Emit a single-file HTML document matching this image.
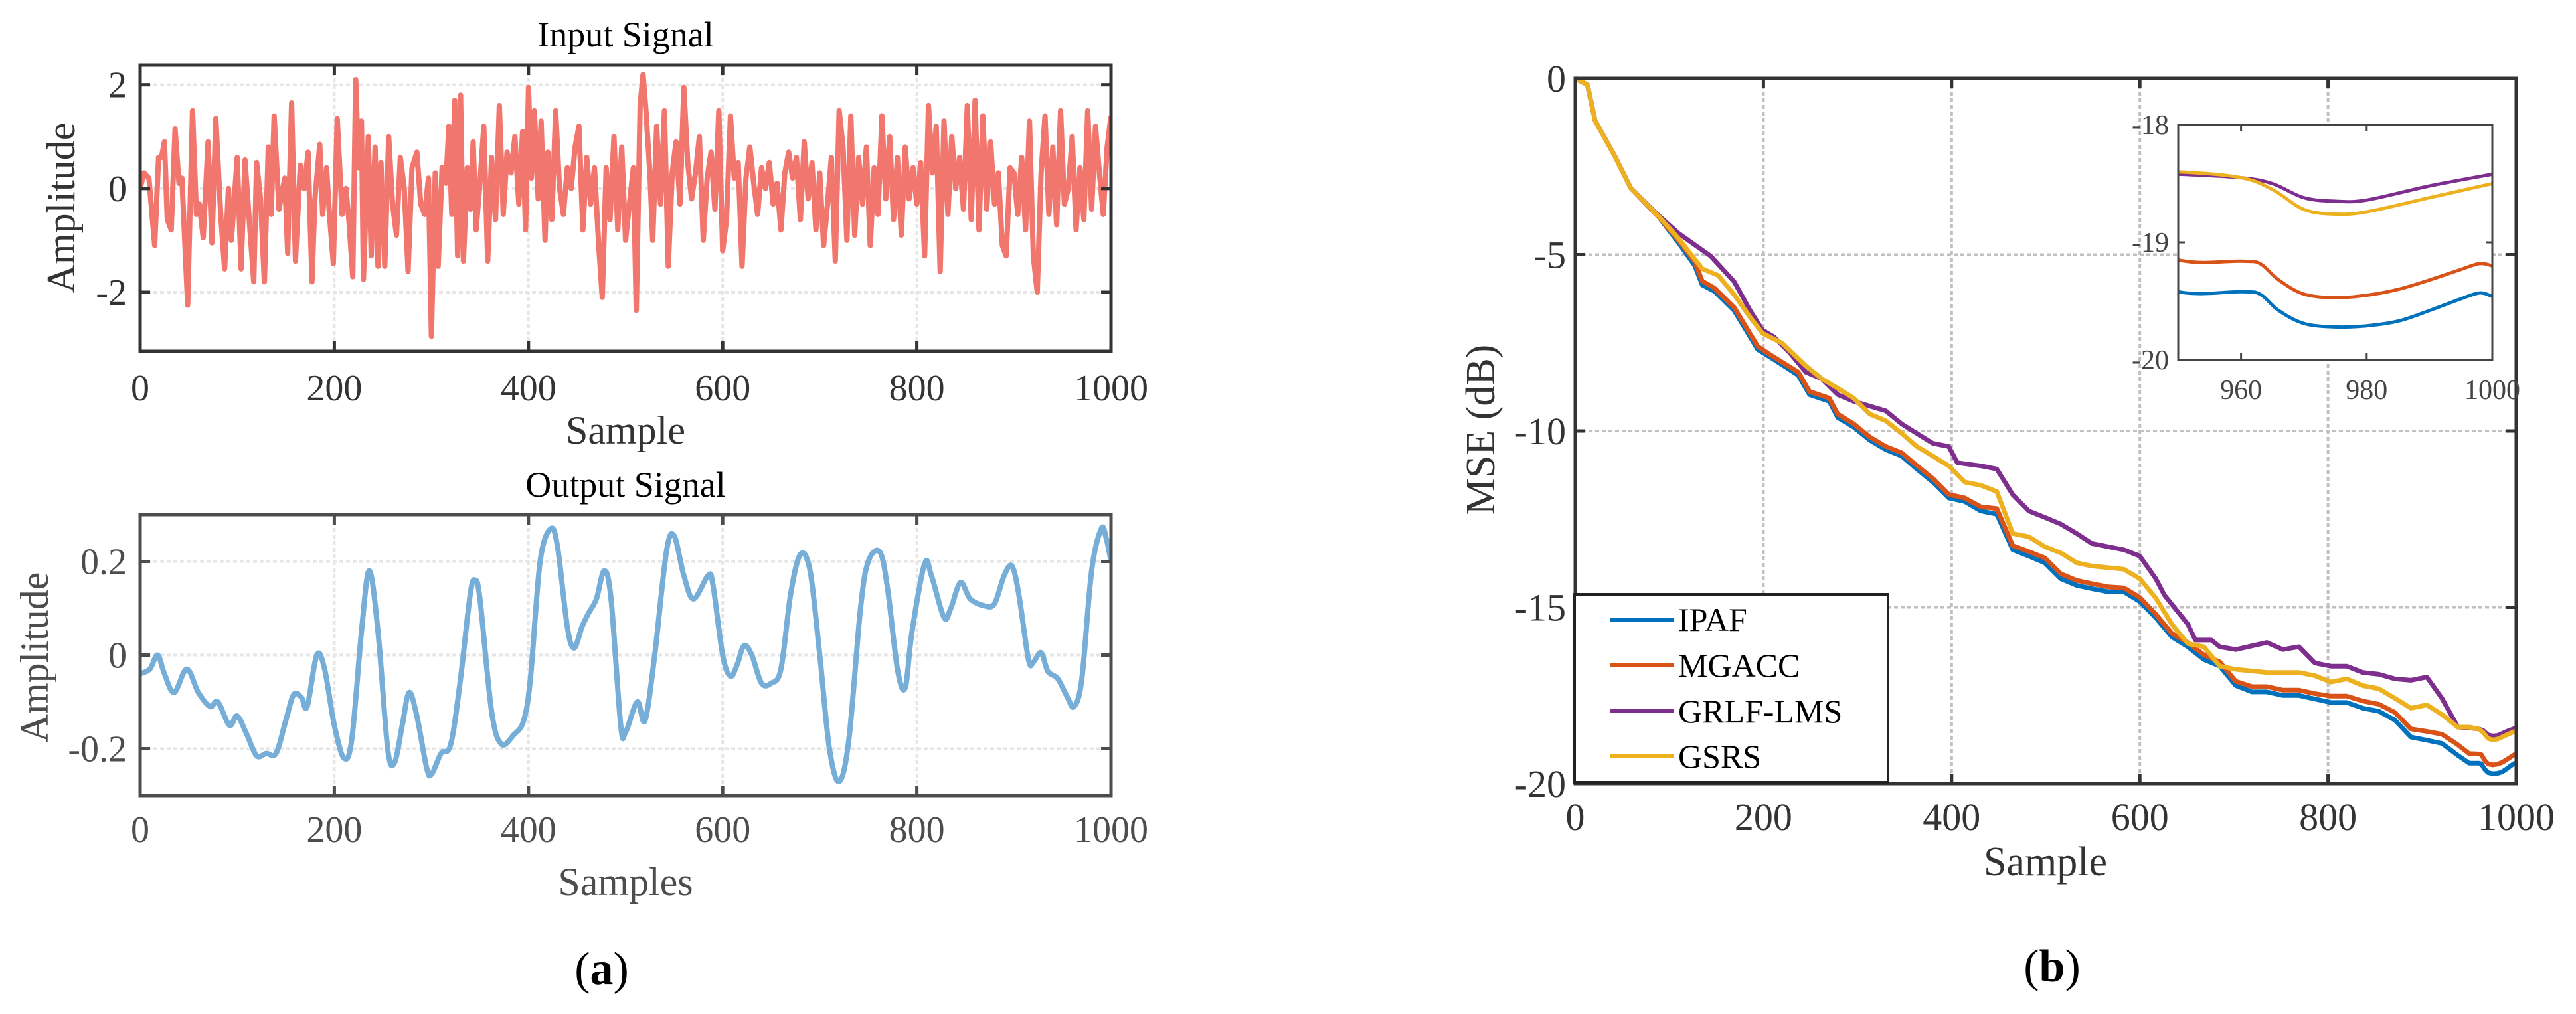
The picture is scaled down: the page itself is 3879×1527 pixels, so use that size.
<!DOCTYPE html>
<html><head><meta charset="utf-8"><style>
html,body{margin:0;padding:0;background:#fff;}
svg{display:block;}
text{font-family:"Liberation Serif",serif;}
</style></head><body>
<svg id="fig" width="3879" height="1527" viewBox="0 0 3879 1527" xmlns="http://www.w3.org/2000/svg"></svg>
<script>
// ---------- DATA ----------
const inputSamples = [0,4,9,15,19,22,25,28,32,36,40,43,49,54,58,61,65,70,74,78,83,87,91,94,100,104,108,112,117,120,124,128,132,135,138,143,149,152,156,160,165,169,173,177,180,185,188,192,195,199,203,208,212,215,219,222,225,228,230,235,238,242,245,248,252,256,260,264,268,272,276,280,285,289,293,297,300,304,307,311,315,318,321,324,327,330,333,337,340,343,346,350,354,358,362,366,370,374,378,382,386,390,394,397,400,403,406,410,413,417,420,424,428,432,436,440,444,448,452,456,460,464,468,472,476,480,484,488,492,496,500,504,508,511,515,518,521,525,528,532,536,540,544,548,552,556,560,564,568,572,576,580,584,588,592,596,600,604,608,612,616,620,624,628,632,636,640,644,648,652,656,660,664,668,672,676,680,684,688,692,696,700,704,708,712,716,720,724,728,732,736,740,744,748,752,756,760,764,768,772,776,780,784,788,792,796,800,804,808,812,816,820,824,828,832,836,840,844,848,852,856,860,864,868,872,876,880,884,888,892,896,900,904,908,912,916,920,924,928,932,936,940,944,948,952,956,960,964,968,972,976,980,984,988,992,996,1000];
const inputValues = [0.0,0.3,0.2,-1.1,0.6,0.6,0.9,-0.6,-0.8,1.15,0.1,0.2,-2.25,1.5,-0.5,-0.3,-0.95,0.9,-1.05,1.35,-0.5,-1.55,0.0,-1.0,0.6,-1.55,0.55,-0.5,-1.8,0.5,-0.2,-1.8,0.8,-0.5,1.4,-0.4,0.2,-1.25,1.65,-1.4,0.45,0.0,0.7,-1.8,-0.2,0.85,-0.5,0.4,-0.5,-1.45,1.35,-0.5,0.0,-0.6,-1.7,2.1,0.4,1.3,-1.75,1.0,-1.3,0.8,-1.5,0.5,-1.5,1.0,-0.3,-0.9,0.6,0.0,-1.6,0.4,0.7,-0.3,-0.5,0.2,-2.85,0.3,-1.5,0.4,0.1,1.2,-0.5,1.7,-1.3,1.8,-1.4,0.4,-0.4,0.9,-0.8,0.1,1.2,-1.4,0.6,-0.6,1.6,-0.5,0.7,0.3,1.0,-0.3,1.1,-0.8,1.95,0.2,1.5,-0.2,1.3,-1.0,0.7,-0.6,1.5,0.0,-0.5,0.4,0.0,0.8,1.2,-0.8,0.6,-0.3,0.4,-1.0,-2.1,0.4,-0.6,1.0,-0.8,0.8,-1.0,-0.3,0.4,-2.35,1.6,2.2,1.5,0.3,-1.0,1.2,-0.3,1.5,-1.5,0.3,0.9,-0.3,1.95,0.5,-0.2,0.3,1.0,-1.0,0.2,0.7,-0.4,1.5,-1.2,-0.6,1.4,0.2,0.5,-1.5,0.2,0.8,0.1,-0.5,0.4,0.0,0.5,-0.3,0.1,-0.8,0.3,0.7,0.2,0.6,-0.6,0.9,-0.2,0.5,-0.8,0.3,-1.1,-0.3,0.6,-1.4,1.5,0.8,-1.0,1.4,-0.9,0.6,-0.3,0.8,-1.1,0.4,-0.5,1.4,-0.2,1.0,-0.6,0.6,-0.9,0.8,-0.2,0.4,-0.3,0.5,-1.3,1.6,0.3,1.2,-1.6,1.3,-0.5,1.0,0.0,0.6,-0.4,1.6,-0.6,1.7,-0.8,1.4,-0.4,0.9,-0.3,0.3,-1.1,-1.3,0.4,0.3,-0.5,0.6,-0.8,1.3,-1.3,-2.0,0.3,1.4,-0.5,0.8,-0.7,1.5,-0.3,0.0,1.0,-0.8,0.4,-0.6,1.5,-0.4,1.2,0.3,-0.5,0.8,1.4];

const outputSamples = [0,10,18,25,35,48,60,72,80,92,100,110,120,130,140,150,158,166,172,182,190,200,210,218,228,236,245,255,262,270,277,285,295,300,310,320,330,340,345,350,362,372,385,395,402,412,423,430,440,447,455,462,470,478,485,495,500,512,520,530,542,550,560,570,585,590,600,608,615,622,630,640,650,660,670,680,690,700,710,720,730,742,750,762,770,780,788,795,808,815,828,835,845,855,870,880,890,898,905,915,920,928,935,945,955,962,970,980,990,995,1000];
const outputValues = [-0.04,-0.03,0.0,-0.04,-0.08,-0.03,-0.08,-0.11,-0.1,-0.15,-0.13,-0.17,-0.215,-0.21,-0.21,-0.14,-0.085,-0.09,-0.11,0.0,-0.03,-0.15,-0.22,-0.18,0.05,0.18,0.05,-0.2,-0.23,-0.15,-0.08,-0.13,-0.24,-0.255,-0.21,-0.19,-0.05,0.13,0.16,0.12,-0.12,-0.19,-0.17,-0.14,-0.05,0.2,0.27,0.23,0.06,0.015,0.06,0.09,0.12,0.18,0.12,-0.15,-0.165,-0.1,-0.14,0.0,0.22,0.255,0.17,0.12,0.17,0.15,0.0,-0.045,-0.02,0.02,0.0,-0.06,-0.06,-0.03,0.13,0.215,0.18,0.0,-0.2,-0.27,-0.18,0.1,0.2,0.22,0.14,-0.03,-0.07,0.05,0.195,0.17,0.08,0.1,0.155,0.12,0.105,0.11,0.17,0.19,0.13,-0.01,-0.015,0.005,-0.035,-0.05,-0.09,-0.11,-0.05,0.18,0.27,0.25,0.2];

const ipafSamples = [0,13,21,42,59,89,110,127,135,148,169,194,211,237,249,270,279,296,313,330,347,363,380,397,414,431,448,465,482,499,516,533,549,566,583,600,617,634,651,668,685,702,719,735,752,769,786,803,820,837,854,871,888,905,921,938,950,960,963,966,970,975,980,985,990,995,998,1000];
const ipafValues = [0,-0.18,-1.19,-2.2,-3.11,-3.94,-4.67,-5.31,-5.86,-6.04,-6.59,-7.69,-7.97,-8.42,-8.97,-9.16,-9.62,-9.89,-10.26,-10.53,-10.71,-11.08,-11.45,-11.9,-12.0,-12.27,-12.36,-13.37,-13.55,-13.74,-14.19,-14.38,-14.47,-14.56,-14.56,-14.84,-15.3,-15.84,-16.12,-16.48,-16.67,-17.22,-17.4,-17.4,-17.5,-17.5,-17.6,-17.7,-17.7,-17.86,-17.95,-18.2,-18.68,-18.77,-18.86,-19.2,-19.42,-19.42,-19.44,-19.58,-19.69,-19.72,-19.71,-19.67,-19.58,-19.48,-19.43,-19.46];
const mgaccSamples = [0,13,21,42,59,89,110,127,135,148,169,194,211,237,249,270,279,296,313,330,347,363,380,397,414,431,448,465,482,499,516,533,549,566,583,600,617,634,651,668,685,702,719,735,752,769,786,803,820,837,854,871,888,905,921,938,950,960,963,966,970,975,980,985,990,995,998,1000];
const mgaccValues = [0,-0.18,-1.19,-2.2,-3.11,-3.94,-4.6,-5.2,-5.75,-5.95,-6.5,-7.6,-7.9,-8.33,-8.88,-9.07,-9.52,-9.8,-10.17,-10.44,-10.62,-10.98,-11.35,-11.8,-11.9,-12.15,-12.2,-13.25,-13.42,-13.6,-14.05,-14.24,-14.33,-14.42,-14.45,-14.72,-15.2,-15.74,-16.0,-16.35,-16.55,-17.1,-17.25,-17.25,-17.35,-17.35,-17.45,-17.52,-17.52,-17.66,-17.75,-17.98,-18.45,-18.52,-18.6,-18.9,-19.15,-19.16,-19.18,-19.32,-19.44,-19.47,-19.45,-19.4,-19.32,-19.23,-19.18,-19.2];
const grlfSamples = [0,13,21,42,59,89,110,144,169,186,199,211,228,245,262,279,296,330,347,363,380,397,406,431,448,465,482,499,516,533,549,566,583,600,617,626,651,659,676,685,702,735,752,769,786,803,820,837,854,871,888,905,921,938,950,960,965,970,975,980,990,1000];
const grlfValues = [0,-0.18,-1.19,-2.2,-3.11,-3.9,-4.4,-5.04,-5.77,-6.59,-7.14,-7.33,-7.78,-8.33,-8.52,-8.97,-9.16,-9.43,-9.8,-10.07,-10.35,-10.44,-10.9,-10.99,-11.08,-11.81,-12.27,-12.45,-12.64,-12.91,-13.19,-13.28,-13.37,-13.55,-14.19,-14.65,-15.48,-15.93,-15.93,-16.12,-16.2,-16.0,-16.2,-16.12,-16.58,-16.67,-16.67,-16.85,-16.9,-17.03,-17.07,-16.98,-17.58,-18.4,-18.42,-18.45,-18.5,-18.62,-18.65,-18.64,-18.52,-18.42];
const gsrsSamples = [0,13,21,42,59,89,110,135,152,169,186,199,220,245,262,279,296,313,330,347,363,380,397,414,431,448,465,482,499,516,533,549,583,600,617,634,651,668,685,702,735,752,769,786,803,820,837,854,871,888,905,921,938,950,960,965,970,975,980,990,1000];
const gsrsValues = [0,-0.18,-1.19,-2.2,-3.11,-3.92,-4.55,-5.4,-5.59,-6.14,-6.78,-7.23,-7.51,-8.15,-8.52,-8.79,-9.07,-9.52,-9.71,-10.07,-10.44,-10.71,-10.99,-11.45,-11.54,-11.72,-12.91,-13.0,-13.28,-13.46,-13.74,-13.83,-13.92,-14.19,-14.74,-15.48,-16.03,-16.12,-16.67,-16.76,-16.85,-16.85,-16.85,-16.94,-17.12,-17.03,-17.22,-17.31,-17.58,-17.86,-17.77,-18.04,-18.4,-18.4,-18.45,-18.55,-18.72,-18.76,-18.74,-18.62,-18.5];

const xTicks = [0,200,400,600,800,1000];
const inYTicks = [-2,0,2];
const inYLabels = ["-2","0","2"];
const outYTicks = [-0.2,0,0.2];
const outYLabels = ["-0.2","0","0.2"];
const mseYTicks = [-20,-15,-10,-5,0];
const mseYLabels = ["-20","-15","-10","-5","0"];
const insetXTicks = [960,980,1000];
const insetYTicks = [-20,-19,-18];
const legendLabels = ["IPAF","MGACC","GRLF-LMS","GSRS"];

// ---------- DRAWING ----------
const NS = "http://www.w3.org/2000/svg";
const svg = document.getElementById('fig');
function el(tag, attrs, parent, txt){
  const e = document.createElementNS(NS, tag);
  for (const k in attrs) e.setAttribute(k, attrs[k]);
  if (txt !== undefined) e.textContent = txt;
  (parent || svg).appendChild(e);
  return e;
}
function lin(d0,d1,r0,r1){ return v => r0 + (v-d0)/(d1-d0)*(r1-r0); }

function axesBox(g, L, R, T, B, xs, ys, xt, yt, opts){
  // grid
  xt.forEach(t => { if (xs(t)>L+2 && xs(t)<R-2){ const l = el('line',{x1:xs(t),x2:xs(t),y1:T,y2:B,stroke:opts.grid,'stroke-width':4,'stroke-dasharray':'6 4'},g);   }});
  yt.forEach(t => { if (ys(t)>T+2 && ys(t)<B-2){ const l = el('line',{x1:L,x2:R,y1:ys(t),y2:ys(t),stroke:opts.grid,'stroke-width':4,'stroke-dasharray':'6 4'},g);   }});
}
function axesFrame(g, L, R, T, B, xs, ys, xt, yt, opts){
  const tl = opts.tick;
  xt.forEach(t => {
    el('line',{x1:xs(t),x2:xs(t),y1:B,y2:B-tl,stroke:opts.axis,'stroke-width':opts.sw},g);
    el('line',{x1:xs(t),x2:xs(t),y1:T,y2:T+tl,stroke:opts.axis,'stroke-width':opts.sw},g);
  });
  yt.forEach(t => {
    el('line',{x1:L,x2:L+tl,y1:ys(t),y2:ys(t),stroke:opts.axis,'stroke-width':opts.sw},g);
    el('line',{x1:R,x2:R-tl,y1:ys(t),y2:ys(t),stroke:opts.axis,'stroke-width':opts.sw},g);
  });
  const f = el('rect',{x:L,y:T,width:R-L,height:B-T,fill:'none',stroke:opts.axis,'stroke-width':opts.sw},g);
  
  
}
function pathFrom(xsArr, vsArr, xs, ys, smooth){
  const pts = xsArr.map((s,i)=>[xs(s), ys(vsArr[i])]);
  if (!smooth) return 'M' + pts.map(p=>p[0].toFixed(1)+','+p[1].toFixed(1)).join('L');
  let d = 'M'+pts[0][0].toFixed(1)+','+pts[0][1].toFixed(1);
  for (let i=0;i<pts.length-1;i++){
    const p0=pts[Math.max(0,i-1)], p1=pts[i], p2=pts[i+1], p3=pts[Math.min(pts.length-1,i+2)];
    const c1=[p1[0]+(p2[0]-p0[0])/6, p1[1]+(p2[1]-p0[1])/6];
    const c2=[p2[0]-(p3[0]-p1[0])/6, p2[1]-(p3[1]-p1[1])/6];
    d += 'C'+c1[0].toFixed(1)+','+c1[1].toFixed(1)+' '+c2[0].toFixed(1)+','+c2[1].toFixed(1)+' '+p2[0].toFixed(1)+','+p2[1].toFixed(1);
  }
  return d;
}
const defs = el('defs',{});

// ===== Panel (a) top: Input Signal =====
{
  const g = el('g',{});  
  const L=211,R=1673,T=98,B=529;
  const xs = lin(0,1000,L,R), ys = lin(-3.14,2.38,B,T);
  axesBox(g,L,R,T,B,xs,ys,xTicks,inYTicks,{grid:'#e6e6e6'});
  const cp = el('clipPath',{id:'c1'},defs); el('rect',{x:L,y:T,width:R-L,height:B-T},cp);
  const p = el('path',{d:pathFrom(inputSamples,inputValues,xs,ys,false),fill:'none',stroke:'#F1766D','stroke-width':8,'stroke-linejoin':'round','clip-path':'url(#c1)'},g);
   
  axesFrame(g,L,R,T,B,xs,ys,xTicks,inYTicks,{axis:'#333',sw:5,tick:15});
  xTicks.forEach(t=>{ const e=el('text',{x:xs(t),y:603,'font-size':56,fill:'#333','text-anchor':'middle'},g,String(t));   });
  inYTicks.forEach((t,i)=>{ const e=el('text',{x:L-20,y:ys(t)+19,'font-size':56,fill:'#333','text-anchor':'end'},g,inYLabels[i]);   });
  const ti=el('text',{x:942,y:70,'font-size':54,fill:'#000','text-anchor':'middle'},g,'Input Signal');  
  const xl=el('text',{x:942,y:668,'font-size':60,fill:'#333','text-anchor':'middle'},g,'Sample');  
  const yl=el('text',{x:0,y:0,'font-size':60,fill:'#333','text-anchor':'middle',transform:'translate(112,313) rotate(-90)'},g,'Amplitude');  
}

// ===== Panel (a) bottom: Output Signal =====
{
  const g = el('g',{});  
  const L=211,R=1673,T=775,B=1198;
  const xs = lin(0,1000,L,R), ys = lin(-0.3,0.3,B,T);
  axesBox(g,L,R,T,B,xs,ys,xTicks,outYTicks,{grid:'#e6e6e6'});
  const cp = el('clipPath',{id:'c2'},defs); el('rect',{x:L,y:T,width:R-L,height:B-T},cp);
  const p = el('path',{d:pathFrom(outputSamples,outputValues,xs,ys,true),fill:'none',stroke:'#76AED7','stroke-width':8,'stroke-linejoin':'round','clip-path':'url(#c2)'},g);
   
  axesFrame(g,L,R,T,B,xs,ys,xTicks,outYTicks,{axis:'#4d4d4d',sw:5,tick:15});
  xTicks.forEach(t=>{ const e=el('text',{x:xs(t),y:1268,'font-size':56,fill:'#4d4d4d','text-anchor':'middle'},g,String(t));   });
  outYTicks.forEach((t,i)=>{ const e=el('text',{x:L-20,y:ys(t)+19,'font-size':56,fill:'#4d4d4d','text-anchor':'end'},g,outYLabels[i]);   });
  const ti=el('text',{x:942,y:748,'font-size':54,fill:'#000','text-anchor':'middle'},g,'Output Signal');  
  const xl=el('text',{x:942,y:1348,'font-size':60,fill:'#4d4d4d','text-anchor':'middle'},g,'Samples');  
  const yl=el('text',{x:0,y:0,'font-size':60,fill:'#4d4d4d','text-anchor':'middle',transform:'translate(72,990) rotate(-90)'},g,'Amplitude');  
}
{ const t=el('text',{x:906,y:1482,'font-size':70,fill:'#000','text-anchor':'middle'},svg);  
  el('tspan',{},t,'('); el('tspan',{'font-weight':'bold'},t,'a'); el('tspan',{},t,')'); }

// ===== Panel (b): MSE =====
const seriesX = [ipafSamples, mgaccSamples, grlfSamples, gsrsSamples];
const seriesY = [ipafValues, mgaccValues, grlfValues, gsrsValues];
const colors = ['#0072BD','#D95319','#7E2F8E','#EDB120'];
const sNames = ['ipaf','mgacc','grlf-lms','gsrs'];
{
  const g = el('g',{});  
  const L=2372,R=3789,T=118,B=1180;
  const xs = lin(0,1000,L,R), ys = lin(-20,0,B,T);
  axesBox(g,L,R,T,B,xs,ys,xTicks,mseYTicks,{grid:'#c0c0c0'});
  const cp = el('clipPath',{id:'c3'},defs); el('rect',{x:L,y:T-6,width:R-L+4,height:B-T+6},cp);
  seriesX.forEach((sx,i)=>{
    const p = el('path',{d:pathFrom(sx,seriesY[i],xs,ys,false),fill:'none',stroke:colors[i],'stroke-width':7,'stroke-linejoin':'round','clip-path':'url(#c3)'},g);
    
    
  });
  axesFrame(g,L,R,T,B,xs,ys,xTicks,mseYTicks,{axis:'#333',sw:5,tick:15});
  xTicks.forEach(t=>{ const e=el('text',{x:xs(t),y:1250,'font-size':58,fill:'#333','text-anchor':'middle'},g,String(t));   });
  mseYTicks.forEach((t,i)=>{ const e=el('text',{x:L-14,y:ys(t)+20,'font-size':58,fill:'#333','text-anchor':'end'},g,mseYLabels[i]);   });
  const xl=el('text',{x:3080,y:1318,'font-size':62,fill:'#333','text-anchor':'middle'},g,'Sample');  
  const yl=el('text',{x:0,y:0,'font-size':62,fill:'#333','text-anchor':'middle',transform:'translate(2250,647) rotate(-90)'},g,'MSE (dB)');  

  // legend
  const lg = el('g',{},g);  
  el('rect',{x:2371,y:895,width:472,height:283,fill:'#fff',stroke:'#222','stroke-width':4},lg);
  const ly = [933,1002,1071,1139];
  legendLabels.forEach((lab,i)=>{
    const e = el('g',{},lg);
    
    
    el('line',{x1:2424,x2:2520,y1:ly[i],y2:ly[i],stroke:colors[i],'stroke-width':6},e);
    el('text',{x:2527,y:ly[i]+17,'font-size':50,fill:'#000'},e,lab);
  });

  // inset
  const ig = el('g',{},g);  
  const iL=3280,iR=3753,iT=188,iB=542;
  const ixs = lin(950,1000,iL,iR), iys = lin(-20,-18,iB,iT);
  el('rect',{x:iL,y:iT,width:iR-iL,height:iB-iT,fill:'#fff'},ig);
  const cp2 = el('clipPath',{id:'c4'},defs); el('rect',{x:iL,y:iT,width:iR-iL,height:iB-iT},cp2);
  seriesX.forEach((sx,i)=>{
    const p = el('path',{d:pathFrom(sx,seriesY[i],ixs,iys,true),fill:'none',stroke:colors[i],'stroke-width':5,'clip-path':'url(#c4)'},ig);
    
    
  });
  axesFrame(ig,iL,iR,iT,iB,ixs,iys,insetXTicks,insetYTicks,{axis:'#444',sw:3,tick:10});
  insetXTicks.forEach(t=>{ const e=el('text',{x:ixs(t),y:601,'font-size':42,fill:'#444','text-anchor':'middle'},ig,String(t));   });
  insetYTicks.forEach(t=>{ const e=el('text',{x:iL-14,y:iys(t)+14,'font-size':42,fill:'#444','text-anchor':'end'},ig,String(t));   });
}
{ const t=el('text',{x:3090,y:1478,'font-size':70,fill:'#000','text-anchor':'middle'},svg);  
  el('tspan',{},t,'('); el('tspan',{'font-weight':'bold'},t,'b'); el('tspan',{},t,')'); }
</script>
</body></html>
